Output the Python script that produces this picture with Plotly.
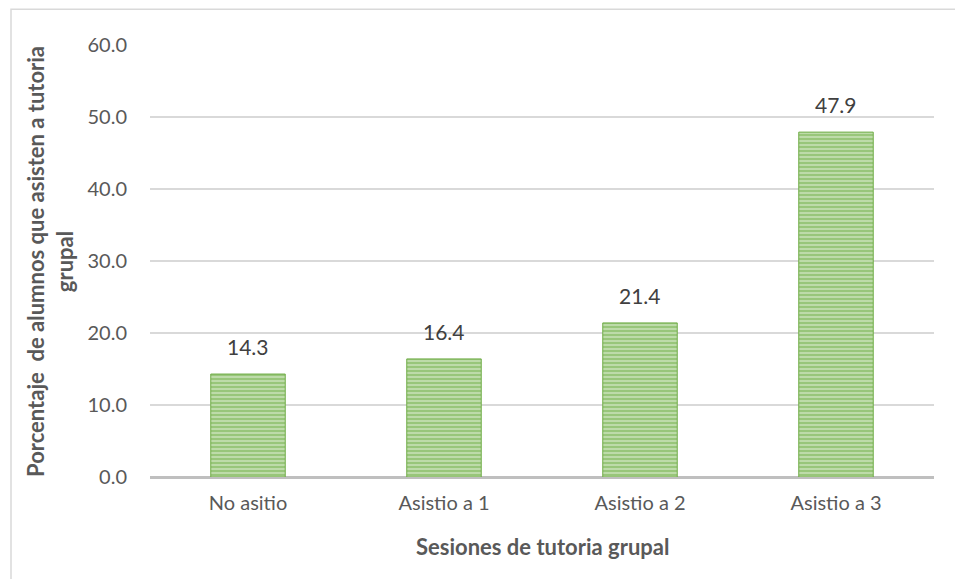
import plotly.graph_objects as go

categorias = ["No asitio", "Asistio a 1", "Asistio a 2", "Asistio a 3"]
porcentajes = [14.3, 16.4, 21.4, 47.9]

FONT = "Lato"
GRIS = "#595959"


def main():
    fig = go.Figure()
    fig.add_trace(
        go.Bar(
            x=categorias,
            y=porcentajes,
            marker=dict(
                color="#c6e0b4",
                line=dict(color="#70ad47", width=1),
                pattern=dict(shape="-", fgcolor="#6aab3f", bgcolor="#c6e0b4",
                             size=4, solidity=0.6),
            ),
            width=0.38,
            hoverinfo="x+y",
        )
    )

    for c, v in zip(categorias, porcentajes):
        fig.add_annotation(
            x=c, y=v, text=f"{v:.1f}", showarrow=False,
            yanchor="bottom", yshift=13,
            font=dict(family=FONT, size=21, color="#404040"),
        )

    # titulos de ejes
    fig.add_annotation(
        xref="paper", yref="paper", x=-0.1276, y=0.5,
        xanchor="center", yanchor="middle",
        text="<b>Porcentaje  de alumnos que asisten a tutoria<br>grupal</b>",
        textangle=-90, showarrow=False,
        font=dict(family=FONT, size=22, color=GRIS),
    )
    fig.add_annotation(
        xref="paper", yref="paper", x=0.5, y=-0.162,
        xanchor="center", yanchor="middle",
        text="<b>Sesiones de tutoria grupal</b>", showarrow=False,
        font=dict(family=FONT, size=22, color=GRIS),
    )

    # borde del grafico
    fig.add_shape(
        type="rect", xref="paper", yref="paper",
        x0=-0.1773, x1=1.2, y0=-0.5, y1=1.083,
        line=dict(color="#d9d9d9", width=1.5), layer="below",
    )

    fig.update_layout(
        width=955, height=571,
        margin=dict(l=142, r=29, t=37, b=102),
        paper_bgcolor="white", plot_bgcolor="white",
        showlegend=False,
        font=dict(family=FONT, size=20, color=GRIS),
        xaxis=dict(showline=False, showgrid=False, ticks="",
                   ticklabelstandoff=12),
        yaxis=dict(range=[0, 60], dtick=10, tickformat=".1f",
                   showgrid=True, gridcolor="#d9d9d9", gridwidth=1.5,
                   zeroline=True, zerolinecolor="#bfbfbf", zerolinewidth=3,
                   showline=False, ticks="", ticklabelstandoff=22),
    )

    fig.write_html("out.html")


if __name__ == "__main__":
    main()
